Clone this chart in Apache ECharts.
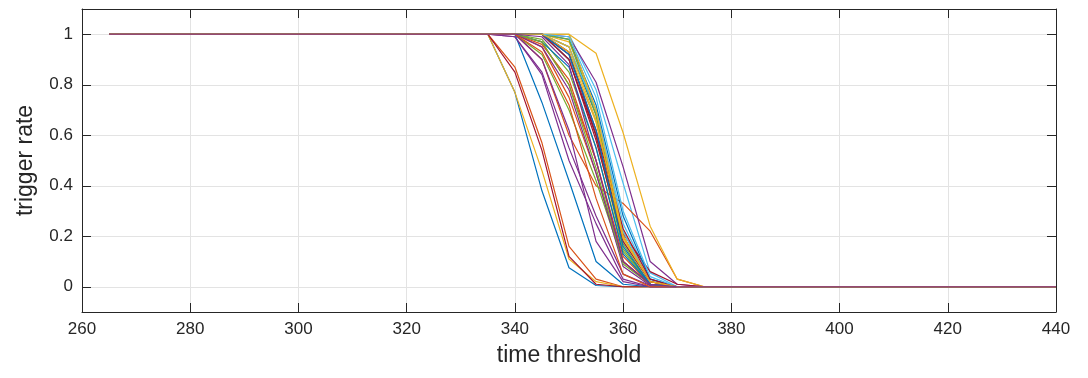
<!DOCTYPE html>
<html>
<head>
<meta charset="utf-8">
<script src="https://cdn.jsdelivr.net/npm/echarts@6/dist/echarts.min.js"></script>
<style>html,body{margin:0;padding:0;background:#fff;}#c{width:1088px;height:378px;}</style>
</head>
<body>
<div id="c"></div>
<script>
// x sample positions (time threshold)
const xs = [265, 330, 335, 340, 345, 350, 355, 360, 365, 370, 375, 380, 440];
// trigger rate curves, one per run
const s00 = [1,1,1,0.77,0.38,0.075,0.005,0,0,0,0,0,0];
const s01 = [1,1,1,0.87,0.57,0.16,0.03,0,0,0,0,0,0];
const s02 = [1,1,1,0.77,0.46,0.11,0.02,0,0,0,0,0,0];
const s03 = [1,1,1,0.99,0.85,0.55,0.28,0.05,0.005,0,0,0,0];
const s04 = [1,1,1,1,1,0.9,0.6,0.15,0.01,0,0,0,0];
const s05 = [1,1,1,1,1,1,0.78,0.41,0.055,0,0,0,0];
const s06 = [1,1,1,0.85,0.54,0.12,0.01,0,0,0,0,0,0];
const s07 = [1,1,1,1,0.73,0.42,0.1,0.01,0,0,0,0,0];
const s08 = [1,1,1,1,0.9,0.6,0.4,0.33,0.22,0.03,0,0,0];
const s09 = [1,1,1,1,1,1,0.925,0.61,0.24,0.03,0,0,0];
const s10 = [1,1,1,1,1,0.99,0.81,0.475,0.10,0.01,0,0,0];
const s11 = [1,1,1,1,0.92,0.7,0.42,0.1,0.01,0,0,0,0];
const s12 = [1,1,1,1,1,0.93,0.7,0.25,0.03,0,0,0,0];
const s13 = [1,1,1,1,1,0.9,0.6,0.21,0.06,0.01,0,0,0];
const s14 = [1,1,1,1,1,0.95,0.68,0.2,0.02,0,0,0,0];
const s15 = [1,1,1,1,0.97,0.8,0.5,0.12,0.01,0,0,0,0];
const s16 = [1,1,1,1,1,0.97,0.7,0.22,0.02,0,0,0,0];
const s17 = [1,1,1,1,0.9,0.62,0.18,0.02,0,0,0,0,0];
const s18 = [1,1,1,1,0.98,0.85,0.55,0.14,0.01,0,0,0,0];
const s19 = [1,1,1,1,1,0.9,0.66,0.18,0.02,0,0,0,0];
const s20 = [1,1,1,1,1,0.93,0.6,0.2,0.02,0,0,0,0];
const s21 = [1,1,1,1,1,0.98,0.72,0.28,0.03,0,0,0,0];
const s22 = [1,1,1,1,0.95,0.75,0.45,0.1,0.01,0,0,0,0];
const s23 = [1,1,1,1,1,0.93,0.65,0.2,0.02,0,0,0,0];
const s24 = [1,1,1,0.99,0.84,0.5,0.25,0.03,0,0,0,0,0];
const s25 = [1,1,1,1,1,0.98,0.68,0.17,0.01,0,0,0,0];
const s26 = [1,1,1,1,1,0.95,0.7,0.22,0.01,0,0,0,0];
const s27 = [1,1,1,1,1,0.92,0.62,0.23,0.03,0,0,0,0];
const s28 = [1,1,1,1,0.97,0.87,0.55,0.13,0.01,0,0,0,0];
const s29 = [1,1,1,1,0.96,0.82,0.5,0.1,0.01,0,0,0,0];
const s30 = [1,1,1,1,1,1,0.7,0.2,0.02,0,0,0,0];
const s31 = [1,1,1,1,0.95,0.78,0.45,0.08,0.005,0,0,0,0];
const s32 = [1,1,1,1,0.97,0.8,0.47,0.09,0.01,0,0,0,0];
const s33 = [1,1,1,1,1,0.99,0.75,0.3,0.04,0,0,0,0];
const s34 = [1,1,1,1,1,0.9,0.58,0.18,0.02,0,0,0,0];
const s35 = [1,1,1,1,1,0.92,0.62,0.16,0.01,0,0,0,0];
const s36 = [1,1,1,1,0.93,0.72,0.35,0.05,0,0,0,0,0];
const s37 = [1,1,1,1,1,0.95,0.66,0.19,0.02,0,0,0,0];
const s38 = [1,1,1,1,0.99,0.88,0.5,0.1,0.01,0,0,0,0];
const runs = [s00,s01,s02,s03,s04,s05,s06,s07,s08,s09,s10,s11,s12,s13,s14,s15,s16,s17,s18,s19,
              s20,s21,s22,s23,s24,s25,s26,s27,s28,s29,s30,s31,s32,s33,s34,s35,s36,s37,s38];
const yTicks = [0, 0.2, 0.4, 0.6, 0.8, 1];

const palette = ['#0072BD','#D95319','#EDB120','#7E2F8E','#77AC30','#4DBEEE','#A2142F'];
const axisColor = '#262626';
const font = '"Liberation Sans", Arial, Helvetica, sans-serif';

const chart = echarts.init(document.getElementById('c'), null, {renderer: 'canvas'});
const series = runs.map((r, i) => ({
  type: 'line',
  xAxisIndex: 0, yAxisIndex: 0,
  data: xs.map((x, k) => [x, r[k]]),
  showSymbol: false,
  symbol: 'none',
  lineStyle: {width: 1.2, color: palette[i % 7]},
  emphasis: {disabled: true},
  silent: true,
  z: 2
}));

const yCommon = {
  type: 'value', min: -0.1, max: 1.1,
  axisLine: {show: true, onZero: false, lineStyle: {color: axisColor, width: 1}}
};
const xCommon = {
  type: 'value', min: 260, max: 440, interval: 20,
  axisLine: {show: true, onZero: false, lineStyle: {color: axisColor, width: 1}}
};

chart.setOption({
  animation: false,
  color: palette,
  grid: {left: 82, right: 32, top: 9, bottom: 66, containLabel: false},
  xAxis: [
    Object.assign({}, xCommon, {
      position: 'bottom',
      name: 'time threshold', nameLocation: 'middle', nameGap: 32,
      nameTextStyle: {fontFamily: font, fontSize: 23, color: axisColor, verticalAlign: 'top'},
      axisTick: {show: true, inside: true, length: 9, lineStyle: {color: axisColor}},
      axisLabel: {show: true, margin: 9, fontFamily: font, fontSize: 17, color: axisColor},
      splitLine: {show: true, lineStyle: {color: '#e3e3e3', width: 1}}
    }),
    Object.assign({}, xCommon, {
      position: 'top',
      axisTick: {show: true, inside: true, length: 9, lineStyle: {color: axisColor}},
      axisLabel: {show: false},
      splitLine: {show: false}
    })
  ],
  yAxis: [
    Object.assign({}, yCommon, {
      position: 'left',
      name: 'trigger rate', nameLocation: 'middle', nameGap: 45,
      nameTextStyle: {fontFamily: font, fontSize: 23, color: axisColor},
      axisTick: {show: true, inside: true, length: 9, customValues: yTicks, lineStyle: {color: axisColor}},
      axisLabel: {show: true, margin: 9, customValues: yTicks, fontFamily: font, fontSize: 17, color: axisColor,
                  formatter: v => String(Math.round(v * 10) / 10)},
      splitLine: {show: true, customValues: yTicks, lineStyle: {color: '#e3e3e3', width: 1}}
    }),
    Object.assign({}, yCommon, {
      position: 'right',
      axisTick: {show: true, inside: true, length: 9, customValues: yTicks, lineStyle: {color: axisColor}},
      axisLabel: {show: false, customValues: yTicks},
      splitLine: {show: false}
    })
  ],
  series: series
});
</script>
</body>
</html>
